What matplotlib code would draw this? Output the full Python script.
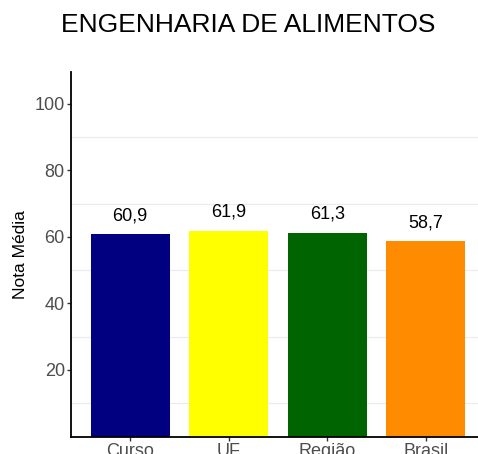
import matplotlib
matplotlib.use('Agg')
import matplotlib.pyplot as plt

categories = ['Curso', 'UF', 'Região', 'Brasil']
values = [60.9, 61.9, 61.3, 58.7]
colors = ['#000080', '#FFFF00', '#006400', '#FF8C00']
labels = ['60,9', '61,9', '61,3', '58,7']

plt.rcParams['font.family'] = ['Liberation Sans', 'DejaVu Sans']

fig = plt.figure(figsize=(4.78, 4.54), dpi=100)
ax = fig.add_axes([71 / 478, (454 - 436.5) / 454, (478 - 71) / 478, 364.5 / 454])

x = range(len(categories))
ax.bar(x, values, width=0.8, color=colors, zorder=2)
for xi, v, lab in zip(x, values, labels):
    ax.annotate(lab, (xi, v), xytext=(0, 7), textcoords='offset points',
                ha='center', va='bottom', fontsize=13, color='black')

ax.set_xlim(-0.6, 3.53)
ax.set_ylim(0, 109.6)
ax.set_yticks([20, 40, 60, 80, 100])
ax.set_yticks([10, 30, 50, 70, 90], minor=True)
ax.grid(True, which='minor', axis='y', color='#ebebeb', linewidth=0.8, zorder=0)
ax.set_xticks(list(x))
ax.set_xticklabels(categories)
ax.tick_params(axis='both', which='major', labelsize=13, labelcolor='#4d4d4d',
               color='#333333', length=3, width=1, pad=1.5)
ax.tick_params(axis='y', which='minor', length=0)

for s in ['top', 'right']:
    ax.spines[s].set_visible(False)
for s in ['left', 'bottom']:
    ax.spines[s].set_linewidth(1.3)
    ax.spines[s].set_color('black')

ax.set_ylabel('Nota Média', fontsize=12.5, labelpad=5)
fig.text(248 / 478, 1 - 25 / 454, 'ENGENHARIA DE ALIMENTOS', ha='center', va='center', fontsize=19)

fig.savefig('out.png', dpi=100)
